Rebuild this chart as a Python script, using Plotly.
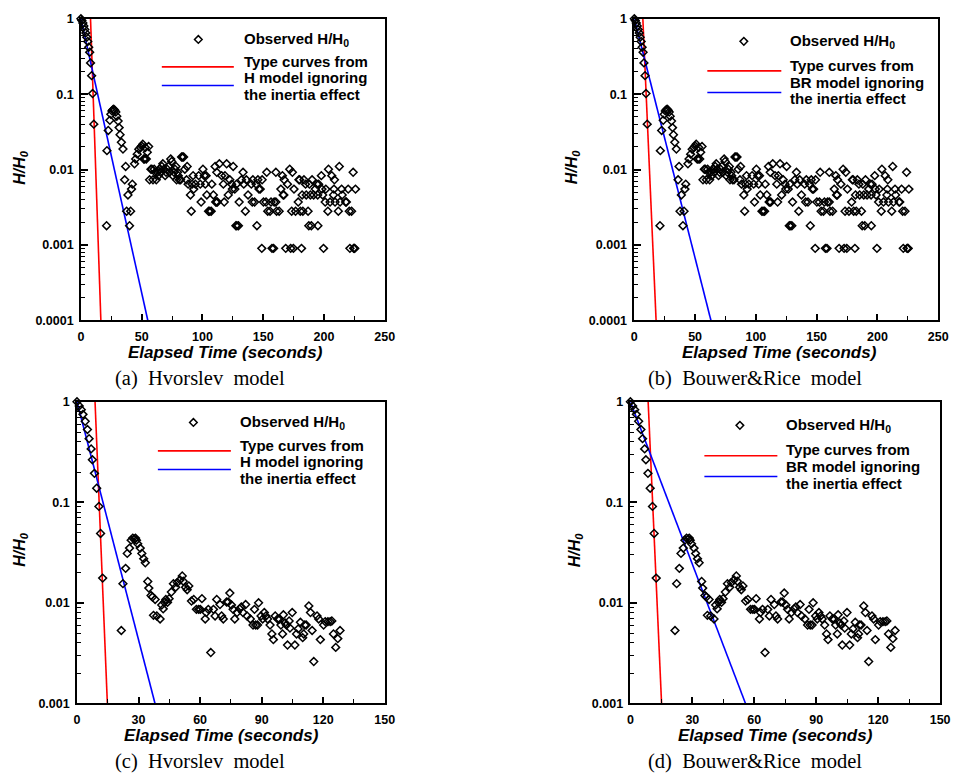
import plotly.graph_objects as go

W, H = 960, 781

# ---------------- observed slug-test response, test 1 (panels a, b) ----------------
t_obs1 = [0, 0.8, 1.6, 2.4, 3.2, 4.0, 4.8, 5.6, 6.4, 7.2, 7.9, 8.8, 9.6, 10.6,
          21.1, 21.4, 22.5, 23.8, 24.6, 25.5, 26.3, 27.0, 27.8, 28.7, 29.5, 30.6, 31.4,
          32.2, 33.3, 34.6, 36.0, 36.8, 37.6, 38.7, 40.0, 40.9, 41.6, 42.3, 44.1, 45.0,
          46.3, 47.6, 49.0, 50.0, 50.9, 51.7, 52.5, 53.0, 53.8, 54.6, 55.7,
          56.5, 57.6, 58.4, 59.3, 60.3, 61.2, 62.0, 63.0, 63.8, 64.7, 65.6, 66.6, 67.4,
          68.2, 69.3, 70.1, 71.0, 72.0, 72.9, 73.9, 74.7, 75.6, 76.6, 77.4, 78.2, 78.7,
          79.5, 80.1, 80.9, 82.0, 82.8, 83.6, 84.5, 85.5, 86.9,
          87.4, 88.2, 90.1, 90.8, 91.5, 92.3, 92.8, 94.2, 96.9, 98.2, 98.9, 100.4, 101.5,
          102.3, 103.0, 103.6, 105.0, 106.0, 107.2, 107.7, 109.0, 110.4, 110.9, 111.6,
          112.3, 111.8, 113.9, 115.8, 117.2, 117.9, 118.5, 119.9, 121.2, 122.5, 124.0,
          124.6, 125.3, 126.6, 127.5, 128.3, 129.6, 128.0, 130.2, 132.1, 133.4, 134.0,
          135.3, 136.1, 137.5, 140.2, 141.0, 142.9, 141.5, 144.2, 144.8, 145.6, 146.5,
          147.5, 149.1, 148.8, 150.2, 152.9, 152.3, 153.7, 155.6, 156.4, 157.2,
          159.0, 160.4, 158.5, 161.0, 163.1, 160.4, 164.5, 166.4, 167.0, 165.8, 167.2,
          168.5, 170.0, 171.8, 172.6, 173.4, 174.0, 175.3, 174.8, 176.6, 178.8, 179.4,
          180.0, 180.5, 181.5, 182.0, 182.6, 183.5, 184.8, 185.4, 186.9, 187.5, 188.0,
          188.8, 189.6, 190.2, 191.5, 192.8, 194.2, 194.8, 195.0, 195.6, 197.8, 198.3,
          198.9, 199.6, 201.0, 201.5, 203.2, 203.7, 205.0, 206.4, 207.8, 208.6, 208.2,
          209.1, 211.8, 212.6, 213.2, 214.5, 215.0, 217.8, 218.4, 219.9, 220.8, 221.3,
          222.7, 224.0, 224.4, 224.8, 225.3, 225.9]
h_obs1 = [1.0, 0.95, 0.88, 0.80, 0.72, 0.65, 0.57, 0.50, 0.42, 0.36, 0.26, 0.176, 0.102, 0.040,
          0.0018, 0.0178, 0.033, 0.045, 0.054, 0.060, 0.062, 0.063, 0.061, 0.058, 0.051, 0.044, 0.036,
          0.029, 0.023, 0.0187, 0.0073, 0.011, 0.0028, 0.0046, 0.0018, 0.0028, 0.0055, 0.0064, 0.0119, 0.0138,
          0.016, 0.0186, 0.0196, 0.0205, 0.0217, 0.0138, 0.0138, 0.0196, 0.0138, 0.017, 0.0202,
          0.0073, 0.0101, 0.0101, 0.0073, 0.0101, 0.0092, 0.0073, 0.0092, 0.0083, 0.0101, 0.0092, 0.011, 0.0119,
          0.0101, 0.0083, 0.0092, 0.0101, 0.011, 0.0092, 0.0138, 0.0128, 0.0083, 0.0092, 0.0101, 0.011, 0.0073,
          0.0092, 0.0083, 0.0073, 0.0073, 0.0147, 0.0147, 0.0147, 0.0101, 0.0073,
          0.011, 0.0064, 0.0046, 0.0028, 0.0064, 0.0083, 0.0055, 0.0064, 0.0083, 0.0064, 0.0037, 0.0101, 0.0083,
          0.0064, 0.0083, 0.0046, 0.0028, 0.0028, 0.0028, 0.0064, 0.0046, 0.011, 0.0037, 0.0037,
          0.0037, 0.0092, 0.0119, 0.0083, 0.0064, 0.0037, 0.0083, 0.0119, 0.0046, 0.0073, 0.0064,
          0.0055, 0.011, 0.0055, 0.0018, 0.0018, 0.0018, 0.0064, 0.0037, 0.0073, 0.0092, 0.0064,
          0.0028, 0.0073, 0.0046, 0.0064, 0.0037, 0.0037, 0.0073, 0.0064, 0.0018, 0.0073, 0.0055,
          0.0055, 0.0073, 0.0009, 0.0037, 0.0092, 0.0037, 0.0028, 0.0028, 0.0037, 0.0009,
          0.0037, 0.0037, 0.0009, 0.0028, 0.0028, 0.0092, 0.0055, 0.0046, 0.0046, 0.0083, 0.0073,
          0.0009, 0.0064, 0.0101, 0.0009, 0.0028, 0.0092, 0.0055, 0.0009, 0.0028, 0.0037, 0.0073,
          0.0073, 0.0028, 0.0009, 0.0046, 0.0028, 0.0073, 0.0064, 0.0046, 0.0028, 0.0018, 0.0064,
          0.0046, 0.0018, 0.0073, 0.0046, 0.0055, 0.0064, 0.0046, 0.0018, 0.0064, 0.0083, 0.0055,
          0.0046, 0.0009, 0.0037, 0.0055, 0.0028, 0.0101, 0.0037, 0.0083, 0.0046, 0.0073, 0.0055,
          0.0037, 0.0028, 0.011, 0.0037, 0.0055, 0.0046, 0.0037, 0.0037, 0.0055, 0.0028, 0.0009,
          0.0028, 0.0092, 0.0009, 0.0009, 0.0009, 0.0055]

# ---------------- observed slug-test response, test 2 (panels c, d) ----------------
t_obs2 = [0, 1.1, 2.1, 2.9, 4.0, 5.1, 5.9, 6.9, 7.5, 8.5, 9.6, 10.7, 11.5, 12.5,
          21.6, 22.4, 23.7, 24.5, 25.6, 26.4, 27.2, 28.0, 28.5, 29.0, 29.6, 30.8, 31.6,
          32.5, 33.3, 34.5, 35.0, 36.1, 36.8, 37.3, 38.1, 38.9, 40.5, 41.3, 42.0, 42.6,
          43.3, 44.1, 44.9, 46.0, 47.0, 48.1, 48.9, 50.2, 51.3, 51.8, 52.9, 53.7, 54.5,
          55.8, 56.9, 58.2, 59.3, 60.1, 60.9, 62.5, 63.0, 64.0, 65.2, 66.5, 67.3, 68.1,
          69.7, 70.5, 71.3, 72.9, 73.7, 74.5, 75.3, 76.1, 76.9, 78.0, 79.3, 80.1, 80.9,
          82.2, 82.9, 84.5, 85.8, 86.5, 87.1, 88.0, 88.5, 89.7, 90.5, 91.3, 92.1, 92.9,
          94.1, 95.0, 95.7, 96.6, 97.8, 98.6, 99.4, 100.2, 100.6, 101.4, 102.1, 102.6,
          103.4, 103.8, 104.9, 106.2, 107.0, 107.8, 108.9, 110.0, 110.5, 111.0, 111.7,
          113.0, 113.8, 114.6, 115.4, 117.0, 117.8, 118.6, 120.2, 121.0, 122.3, 123.4,
          124.2, 125.0, 126.1, 127.1, 128.2]
h_obs2 = [1.0, 0.91, 0.835, 0.75, 0.64, 0.53, 0.43, 0.34, 0.265, 0.194, 0.138, 0.091, 0.049, 0.0176,
          0.0053, 0.0155, 0.022, 0.031, 0.035, 0.042, 0.044, 0.043, 0.044, 0.042, 0.0386, 0.035, 0.031,
          0.0275, 0.025, 0.0163, 0.014, 0.0118, 0.0114, 0.0075, 0.0108, 0.0074, 0.0069, 0.0095, 0.0087, 0.0101,
          0.0108, 0.0101, 0.011, 0.0128, 0.0155, 0.0143, 0.0159, 0.0169, 0.0185, 0.0164, 0.0143, 0.0135, 0.0147,
          0.0104, 0.0108, 0.0086, 0.0086, 0.0086, 0.011, 0.0069, 0.008, 0.0086, 0.0032, 0.0086, 0.0074, 0.0108,
          0.0096, 0.0074, 0.0069, 0.0102, 0.0102, 0.0125, 0.0095, 0.0086, 0.0069, 0.008, 0.0087, 0.0091, 0.008,
          0.0096, 0.0074, 0.0069, 0.006, 0.0086, 0.006, 0.006, 0.01, 0.0074, 0.0069, 0.008, 0.0074, 0.0069,
          0.006, 0.0049, 0.0043, 0.0074, 0.0069, 0.0069, 0.006, 0.0049, 0.0076, 0.0063, 0.006, 0.0038,
          0.0066, 0.0056, 0.008, 0.0038, 0.0049, 0.0055, 0.0064, 0.0045, 0.0049, 0.006, 0.006,
          0.0093, 0.008, 0.0053, 0.0026, 0.0074, 0.0069, 0.0043, 0.006, 0.0065, 0.0065, 0.0065,
          0.0066, 0.0049, 0.0036, 0.0044, 0.0053]

# ---------------- type curves ignoring the inertia effect (start / end points) ----------------
# panel a: H model
ta_red, ha_red = [7.9, 16.4], [1.0, 0.0001]
ta_blue, ha_blue = [0.0, 55.0], [1.0, 0.0001]
# panel b: BR model
tb_red, hb_red = [7.0, 17.9], [1.0, 0.0001]
tb_blue, hb_blue = [0.0, 63.0], [1.0, 0.0001]
# panel c: H model
tc_red, hc_red = [8.8, 14.8], [1.0, 0.001]
tc_blue, hc_blue = [0.0, 38.0], [1.0, 0.001]
# panel d: BR model
td_red, hd_red = [8.6, 15.1], [1.0, 0.001]
td_blue, hd_blue = [0.0, 55.7], [1.0, 0.001]

# tick labels
x_ticks_top = [0, 50, 100, 150, 200, 250]
x_ticks_bottom = [0, 30, 60, 90, 120, 150]
y_ticks_top = [1, 0.1, 0.01, 0.001, 0.0001]
y_labels_top = ["1", "0.1", "0.01", "0.001", "0.0001"]
y_ticks_bottom = [1, 0.1, 0.01, 0.001]
y_labels_bottom = ["1", "0.1", "0.01", "0.001"]

captions = ["(a)\u00a0 Hvorslev\u00a0 model", "(b)\u00a0 Bouwer&Rice\u00a0 model",
            "(c)\u00a0 Hvorslev\u00a0 model", "(d)\u00a0 Bouwer&Rice\u00a0 model"]
legend_models = ["H model ignoring", "BR model ignoring", "H model ignoring", "BR model ignoring"]

SANS = "Arial, 'Liberation Sans', sans-serif"
SERIF = "'Times New Roman', 'Liberation Serif', serif"

# plot-area boxes in pixels: (left, top, right, bottom)
boxes = [(79, 12, 387, 319), (640, 12, 948, 319), (75, 402, 387, 709), (636, 402, 950, 709)]


def px(x):
    return x / W


def py(y):
    return 1 - y / H


fig = go.Figure()

panels = [
    (t_obs1, h_obs1, ta_red, ha_red, ta_blue, ha_blue),
    (t_obs1, h_obs1, tb_red, hb_red, tb_blue, hb_blue),
    (t_obs2, h_obs2, tc_red, hc_red, tc_blue, hc_blue),
    (t_obs2, h_obs2, td_red, hd_red, td_blue, hd_blue),
]

for i, (tt, hh, tr, hr, tbl, hbl) in enumerate(panels):
    k = "" if i == 0 else str(i + 1)
    xa, ya = "x" + k, "y" + k
    fig.add_trace(go.Scatter(x=tr, y=hr, mode="lines", xaxis=xa, yaxis=ya,
                             line=dict(color="#ff0000", width=1.6), showlegend=False,
                             cliponaxis=True))
    fig.add_trace(go.Scatter(x=tbl, y=hbl, mode="lines", xaxis=xa, yaxis=ya,
                             line=dict(color="#0000ff", width=1.6), showlegend=False,
                             cliponaxis=True))
    fig.add_trace(go.Scatter(x=tt, y=hh, mode="markers", xaxis=xa, yaxis=ya,
                             marker=dict(symbol="diamond-open", size=6, color="black",
                                         line=dict(width=1.5, color="black")),
                             showlegend=False, cliponaxis=False))

    left, top, right, bottom = boxes[i]
    top_row = i < 2
    xmax = 250 if top_row else 150
    xt = x_ticks_top if top_row else x_ticks_bottom
    xminor = 25 if top_row else 15
    yt = y_ticks_top if top_row else y_ticks_bottom
    yl = y_labels_top if top_row else y_labels_bottom
    ylow = -4 if top_row else -3
    yminor = [m * 10 ** e for e in range(ylow, 0) for m in range(2, 10)]

    fig.update_layout({
        ("xaxis" + k): dict(
            domain=[px(left), px(right)], anchor=ya, range=[0, xmax],
            tickmode="array", tickvals=xt, ticktext=[str(v) for v in xt],
            ticks="inside", ticklen=6, tickwidth=1.5, tickcolor="black",
            minor=dict(ticks="inside", ticklen=4, tickwidth=1.2, tickcolor="black",
                       dtick=xminor, tick0=0, showgrid=False),
            showline=True, linewidth=1.6, linecolor="black", mirror=True,
            showgrid=False, zeroline=False, ticklabelstandoff=4,
            tickfont=dict(family=SANS, size=12.5, color="black", weight="bold")),
        ("yaxis" + k): dict(
            domain=[py(bottom), py(top)], anchor=xa, type="log", range=[ylow, 0],
            tickmode="array", tickvals=yt, ticktext=yl,
            ticks="inside", ticklen=7, tickwidth=1.5, tickcolor="black",
            minor=dict(ticks="inside", ticklen=4, tickwidth=1.2, tickcolor="black",
                       tickmode="array", tickvals=yminor, showgrid=False),
            showline=True, linewidth=1.6, linecolor="black", mirror=True,
            showgrid=False, zeroline=False, ticklabelstandoff=3,
            tickfont=dict(family=SANS, size=12.5, color="black", weight="bold")),
    })

# titles, captions and legends
ann = []
shapes = []
x_title_pos = [(226, 352), (787, 352), (222, 742), (783, 742)]
y_title_pos = [(17, 163), (577, 163), (17, 552), (580, 553)]
caption_pos = [(200, 378), (762, 378), (200, 768), (762, 768)]
# legend anchor: marker centre, text left, red line y, blue line y, line x-span, text rows
legend_pos = [
    dict(mk=(198, 33), tx=242, red=61, blue=80, lx=(161, 234), rows=(33, 55, 72, 89)),
    dict(mk=(751, 35), tx=796, red=65, blue=87, lx=(714, 789), rows=(35, 60, 77, 93)),
    dict(mk=(193, 423), tx=238, red=452, blue=471, lx=(157, 231), rows=(423, 446, 463, 480)),
    dict(mk=(747, 426), tx=792, red=457, blue=478, lx=(711, 785), rows=(426, 451, 468, 485)),
]

for i in range(4):
    xt_, yt_ = x_title_pos[i]
    ann.append(dict(x=px(xt_), y=py(yt_), xref="paper", yref="paper", showarrow=False,
                    text="Elapsed Time (seconds)", xanchor="center", yanchor="middle",
                    font=dict(family=SANS, size=17, color="black", weight="bold", style="italic")))
    xy_, yy_ = y_title_pos[i]
    ann.append(dict(x=px(xy_), y=py(yy_), xref="paper", yref="paper", showarrow=False,
                    text="H/H<sub>0</sub>", textangle=-90, xanchor="center", yanchor="middle",
                    font=dict(family=SANS, size=16, color="black", weight="bold", style="italic")))
    xc, yc = caption_pos[i]
    ann.append(dict(x=px(xc), y=py(yc), xref="paper", yref="paper", showarrow=False,
                    text=captions[i], xanchor="center", yanchor="middle",
                    font=dict(family=SERIF, size=20.5, color="black")))

    lg = legend_pos[i]
    lines = ["Observed H/H<sub>0</sub>", "Type curves from", legend_models[i], "the inertia effect"]
    for txt, ry in zip(lines, lg["rows"]):
        ann.append(dict(x=px(lg["tx"]), y=py(ry), xref="paper", yref="paper", showarrow=False,
                        text=txt, xanchor="left", yanchor="middle",
                        font=dict(family=SANS, size=15, color="black", weight="bold")))
    mx, my = lg["mk"]
    shapes.append(dict(type="path", xref="paper", yref="paper",
                       xsizemode="pixel", ysizemode="pixel",
                       xanchor=px(mx), yanchor=py(my),
                       path="M 0 3.8 L 3.8 0 L 0 -3.8 L -3.8 0 Z",
                       line=dict(color="black", width=1.5), fillcolor="rgba(0,0,0,0)"))
    x0, x1 = lg["lx"]
    shapes.append(dict(type="line", xref="paper", yref="paper",
                       x0=px(x0), x1=px(x1), y0=py(lg["red"]), y1=py(lg["red"]),
                       line=dict(color="#ff0000", width=1.6)))
    shapes.append(dict(type="line", xref="paper", yref="paper",
                       x0=px(x0), x1=px(x1), y0=py(lg["blue"]), y1=py(lg["blue"]),
                       line=dict(color="#0000ff", width=1.6)))

fig.update_layout(
    width=W, height=H, margin=dict(l=0, r=0, t=0, b=0),
    paper_bgcolor="white", plot_bgcolor="white",
    annotations=ann, shapes=shapes, showlegend=False,
)

fig.write_html("out.html")
